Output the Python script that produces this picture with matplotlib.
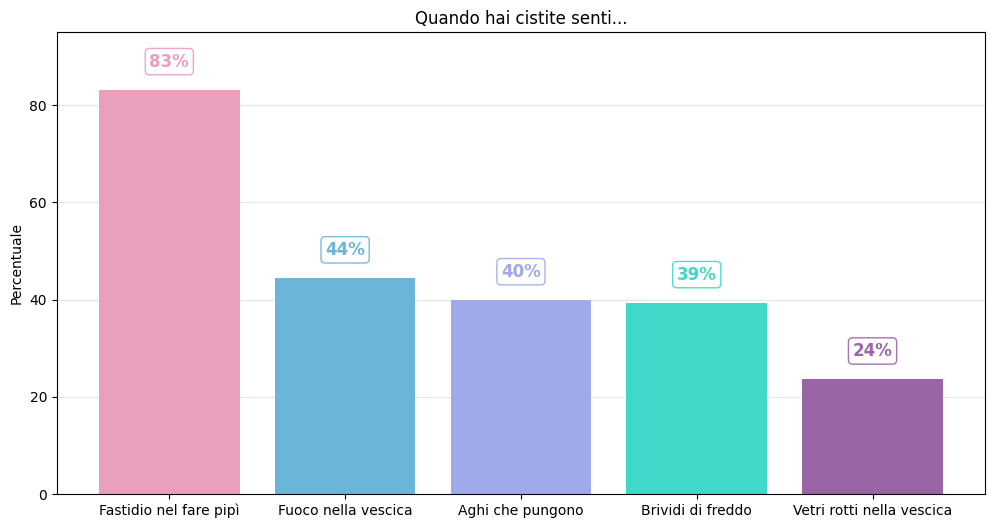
import matplotlib
matplotlib.use("Agg")
import matplotlib.pyplot as plt

# Data
categories = ["Fastidio nel fare pipì", "Fuoco nella vescica", "Aghi che pungono",
              "Brividi di freddo", "Vetri rotti nella vescica"]
values = [83.1, 44.4, 39.9, 39.3, 23.6]
colors = ["#EA9FBE", "#6BB5D8", "#A0AAEA", "#40D8C8", "#9A64A6"]

fig, ax = plt.subplots(figsize=(9.96, 5.28), dpi=100)

bars = ax.bar(categories, values, width=0.8, color=colors, zorder=2)

# Percentage labels above bars
for bar, value, color in zip(bars, values, colors):
    ax.text(bar.get_x() + bar.get_width() / 2, value + 4.0, f"{round(value):d}%",
            ha="center", va="bottom", fontsize=12, fontweight="bold", color=color,
            bbox=dict(boxstyle="round,pad=0.25", facecolor="white", edgecolor=color, alpha=0.9))

ax.set_ylim(0, 95)
ax.set_ylabel("Percentuale")
ax.set_title("Quando hai cistite senti...")
ax.grid(axis="y", color="#e6e6e6", linewidth=0.8, zorder=0)
ax.set_axisbelow(True)

fig.subplots_adjust(left=0.057, right=0.989, bottom=0.064, top=0.939)
plt.savefig("out.png", dpi=100)
